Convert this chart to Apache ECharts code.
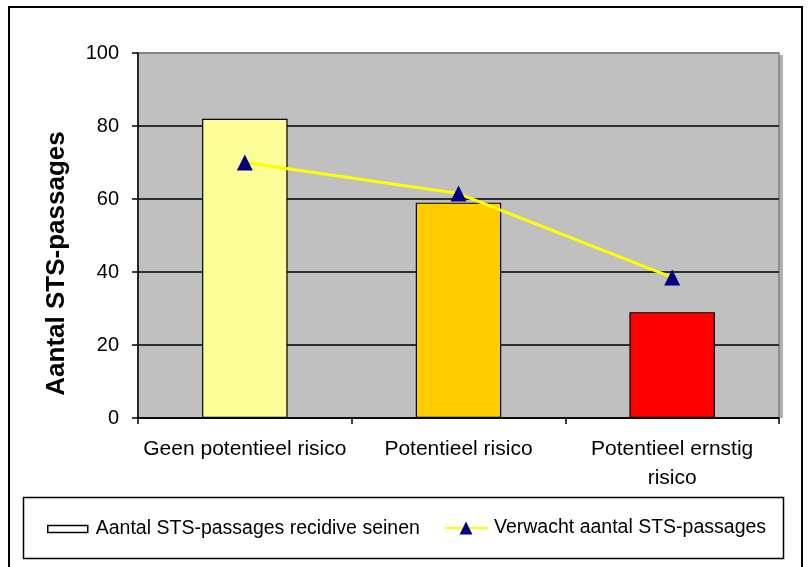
<!DOCTYPE html>
<html>
<head>
<meta charset="utf-8">
<script src="https://cdn.jsdelivr.net/npm/echarts@6/dist/echarts.min.js"></script>
<style>
  html, body { margin: 0; padding: 0; background: #fff; }
  #chart { width: 808px; height: 567px; }
</style>
</head>
<body>
<div id="chart"></div>
<script>
// Risk categories along the x axis
const categories = ['Geen potentieel risico', 'Potentieel risico', 'Potentieel ernstig\nrisico'];
// Observed STS passages at recidivist signals
const observed = [82, 59, 29];
// Expected number of STS passages
const expected = [70, 61.5, 38.5];
// Bar fill per category
const barColors = ['#FFFF99', '#FFCC00', '#FF0000'];
// Y axis ticks
const yTicks = [0, 20, 40, 60, 80, 100];

const seriesNames = ['Aantal STS-passages recidive seinen', 'Verwacht aantal STS-passages'];
const font = 'Arial, "Liberation Sans", sans-serif';

const chart = echarts.init(document.getElementById('chart'), null, { renderer: 'canvas' });

chart.setOption({
  backgroundColor: '#ffffff',
  animation: false,
  textStyle: { fontFamily: font, color: '#000' },
  graphic: [
    // outer chart frame
    {
      type: 'rect', z: -10,
      shape: { x: 9, y: 7, width: 793, height: 600 },
      style: { fill: '#fff', stroke: '#000', lineWidth: 2 }
    },
    // legend frame
    {
      type: 'rect', z: -5,
      shape: { x: 23.5, y: 497.5, width: 760, height: 61 },
      style: { fill: '#fff', stroke: '#000', lineWidth: 1.5 }
    },
    // soft shadow on the right of the plot area
    {
      type: 'rect', z: -6,
      shape: { x: 779, y: 55, width: 4, height: 363 },
      style: { fill: '#b0b0b0' }
    }
  ],
  grid: {
    left: 138, right: 29, top: 53, bottom: 149,
    show: true, backgroundColor: '#C0C0C0', borderColor: '#808080', borderWidth: 1.5
  },
  legend: [
    {
      left: 42, top: 514,
      itemWidth: 40, itemHeight: 7,
      textStyle: { fontFamily: font, fontSize: 19.5, color: '#000', padding: [0, 0, 0, 3] },
      data: [
        { name: seriesNames[0], icon: 'rect', itemStyle: { color: '#fff', borderColor: '#000', borderWidth: 1.5 } }
      ]
    },
    {
      left: 438, top: 513,
      itemWidth: 44, itemHeight: 16,
      textStyle: { fontFamily: font, fontSize: 19.5, color: '#000', padding: [0, 0, 0, 1] },
      data: [{ name: seriesNames[1] }]
    }
  ],
  xAxis: {
    type: 'category',
    data: categories,
    axisLine: { lineStyle: { color: '#000', width: 1.5 } },
    axisTick: { show: true, length: 6, lineStyle: { color: '#000', width: 1.5 } },
    axisLabel: { fontFamily: font, fontSize: 21, color: '#000', margin: 17, lineHeight: 29, interval: 0 }
  },
  yAxis: {
    type: 'value',
    min: yTicks[0], max: yTicks[yTicks.length - 1], interval: 20,
    name: 'Aantal STS-passages',
    nameLocation: 'middle', nameGap: 68, nameRotate: 90,
    nameTextStyle: { fontFamily: font, fontSize: 26, fontWeight: 'bold', color: '#000', padding: [0, 56, 0, 0] },
    axisLine: { show: true, lineStyle: { color: '#000', width: 1.5 } },
    axisTick: { show: true, length: 6, lineStyle: { color: '#000', width: 1.5 } },
    axisLabel: { fontFamily: font, fontSize: 20, color: '#000', margin: 19 },
    splitLine: { show: true, lineStyle: { color: ['#000', '#000', '#000', '#000', '#000', '#808080'], width: 1.5 } }
  },
  series: [
    {
      name: seriesNames[0],
      type: 'bar',
      barWidth: '40%',
      data: observed.map((v, i) => ({ value: v, itemStyle: { color: barColors[i] } })),
      itemStyle: { borderColor: '#000', borderWidth: 1.2 },
      z: 2
    },
    {
      name: seriesNames[1],
      type: 'line',
      data: expected,
      symbol: 'triangle',
      symbolSize: 16,
      itemStyle: { color: '#000080' },
      lineStyle: { color: '#FFFF00', width: 3 },
      z: 3
    }
  ]
});
</script>
</body>
</html>
